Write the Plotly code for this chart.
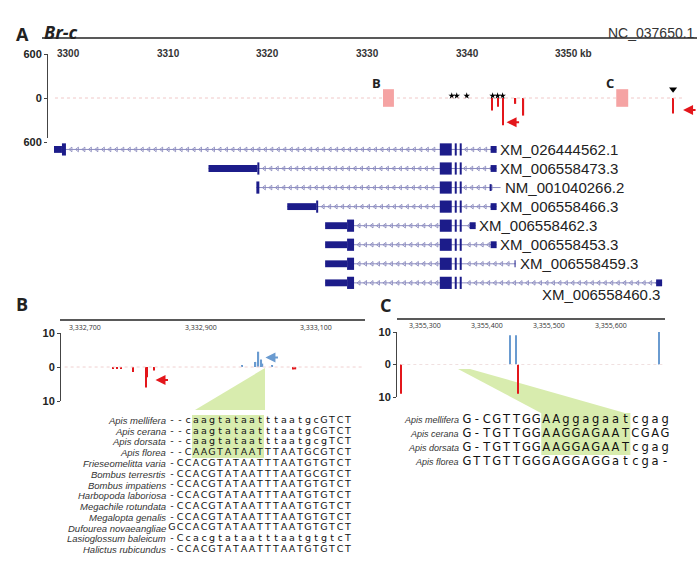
import plotly.graph_objects as go
import numpy as np

W, H = 700, 565
def px(x): return x / W
def py(y): return 1 - y / H

# ---------- Panel A data ----------
a_ticks = [3300, 3310, 3320, 3330, 3340, 3350]
a_ticklabels = ["3300", "3310", "3320", "3330", "3340", "3350 kb"]
tx_names = ["XM_026444562.1", "XM_006558473.3", "NM_001040266.2", "XM_006558466.3",
            "XM_006558462.3", "XM_006558453.3", "XM_006558459.3", "XM_006558460.3"]
tx_start = [3299.9, 3315.4, 3320.2, 3323.3, 3327.1, 3327.1, 3327.1, 3327.1]
tx_end = [3344.3, 3344.3, 3344.7, 3344.3, 3342.2, 3344.3, 3346.2, 3360.9]
tx_first = [(3299.9, 3300.7, 3301.1), (3315.4, 3320.3, 3320.5), (3320.2, 3320.2, 3320.5),
            (3323.3, 3326.2, 3326.4), (3327.1, 3329.3, 3330.0), (3327.1, 3329.3, 3330.0),
            (3327.1, 3329.3, 3330.0), (3327.1, 3329.3, 3330.0)]
shared_exons = [(3338.6, 3339.8), (3340.1, 3340.3), (3340.6, 3340.8)]
tx_last = [(3343.7, 3344.3), (3343.7, 3344.3), (3343.6, 3343.8), (3343.7, 3344.3),
           (3341.6, 3342.2), (3343.7, 3344.3), (3346.1, 3346.2), (3360.3, 3360.9)]
tx_label_x = [3344.4, 3344.4, 3344.9, 3344.4, 3342.3, 3344.4, 3346.4, 3360.9]

a_red_x = [3343.8, 3344.4, 3344.95, 3346.2, 3347.0, 3362.0]
a_red_y = [-170, -120, -370, -80, -240, -210]
a_box = [(3332.9, 3334.0, "B"), (3356.3, 3357.5, "C")]
a_star_x = [3339.8, 3340.3, 3341.3, 3343.9, 3344.4, 3344.9]

# ---------- Panel B data ----------
b_ticks = [3332700, 3332900, 3333100]
b_red_x = [3332748, 3332755, 3332762, 3332783, 3332805, 3332807, 3332819, 3333059, 3333064]
b_red_y = [-0.6, -0.6, -0.6, -1.5, -6, -3, -1, -0.7, -0.7]
b_blue_x = [3332971, 3332995, 3333000, 3333005, 3333007, 3333024]
b_blue_y = [0.4, 1.5, 4.5, 2.2, 1.0, 0.5]
b_species = ["Apis mellifera", "Apis cerana", "Apis dorsata", "Apis florea", "Frieseomelitta varia",
             "Bombus terresrtis", "Bombus impatiens", "Harbopoda laboriosa", "Megachile rotundata",
             "Megalopta genalis", "Dufourea novaeangliae", "Lasioglossum baleicum", "Halictus rubicundus"]
b_seqs = ["--caagtataatttaatgcGTCT", "--caagtataatttaatgCGTCT", "--caagtataatttaatgcgTCT",
          "--CAAGTATAATTTAATGCGTCT", "-CCACGTATAATTTAATGTGTCT", "-CCACGTATAATTTAATGCGTCT",
          "-CCACGTATAATTTAATGTGTCT", "-CCACGTATAATTTAATGTGTCT", "-CCACGTATAATTTAATGTGTCT",
          "-CCACGTATAATTTAATGTGTCT", "GCCACGTATAATTTAATGTGTCT", "-CcacgtataatttaatgtgtcT",
          "-CCACGTATAATTTAATGTGTCT"]

# ---------- Panel C data ----------
c_ticks = [3355300, 3355400, 3355500, 3355600]
c_red_x = [3355261, 3355450]
c_red_y = [-9, -9]
c_blue_x = [3355437, 3355447, 3355677]
c_blue_y = [9, 9, 10]
c_species = ["Apis mellifera", "Apis cerana", "Apis dorsata", "Apis florea"]
c_seqs = ["G-CGTTGGAAggagaatcgag", "G-TGTTGGAAGGAGAATCGAG", "G-TGTTGGAAGGAGAATcgag",
          "GTTGTTGGGAGGAGGatcga-"]

NAVY = "#1c1c8a"
RED = "#e3161b"
BLUE = "#6a9bd0"
PINK = "#f5a3a3"
GREEN = "#d8ecae"
LBL = "Liberation Sans Narrow, Arial"

fig = go.Figure()
shapes, ann = [], []

# ---- Panel A signal track ----
fig.add_trace(go.Bar(x=a_red_x, y=a_red_y, width=0.12, marker_color=RED, marker_line_width=0,
                     xaxis="x", yaxis="y", showlegend=False))
fig.add_trace(go.Scatter(x=a_star_x, y=[30] * len(a_star_x), mode="markers",
                         marker=dict(symbol="star", size=5, color="black"),
                         xaxis="x", yaxis="y", showlegend=False))
fig.add_trace(go.Scatter(x=[3362.0], y=[120], mode="markers",
                         marker=dict(symbol="triangle-down", size=7, color="black"),
                         xaxis="x", yaxis="y", showlegend=False))
shapes.append(dict(type="line", xref="x", yref="y", x0=3300, x1=3363, y0=0, y1=0,
                   line=dict(color="#f0c8c8", width=1, dash="dot")))
for x0, x1, lab in a_box:
    shapes.append(dict(type="rect", xref="x", yref="y", x0=x0, x1=x1, y0=-120, y1=120,
                       fillcolor=PINK, line_width=0))
    ann.append(dict(xref="x", yref="y", x=x0 - 0.6, y=200, text="<b>%s</b>" % lab,
                    showarrow=False, font=dict(size=13, color="#222")))
for hx, hy in [(3345.3, -330), (3363.0, -165)]:
    ann.append(dict(xref="x", yref="y", x=hx, y=hy, ax=14, ay=0, text="", showarrow=True,
                    arrowhead=2, arrowsize=1, arrowwidth=2, arrowcolor=RED))
for t, l in zip(a_ticks, a_ticklabels):
    ann.append(dict(xref="x", yref="paper", x=t, y=py(46), text="<b>%s</b>" % l, showarrow=False,
                    xanchor="left", font=dict(size=10, color="#333", family=LBL)))

# ---- transcripts ----
for i in range(len(tx_names)):
    s, e = tx_start[i], tx_end[i]
    shapes.append(dict(type="line", xref="x", yref="y2", x0=s, x1=e, y0=i, y1=i,
                       line=dict(color="#8c8cc0", width=1)))
    u0, c0, c1 = tx_first[i]
    shapes.append(dict(type="rect", xref="x", yref="y2", x0=u0, x1=c0, y0=i - 0.18, y1=i + 0.18,
                       fillcolor=NAVY, line_width=0))
    shapes.append(dict(type="rect", xref="x", yref="y2", x0=c0, x1=c1, y0=i - 0.32, y1=i + 0.32,
                       fillcolor=NAVY, line_width=0))
    for ex0, ex1 in shared_exons:
        shapes.append(dict(type="rect", xref="x", yref="y2", x0=ex0, x1=ex1, y0=i - 0.32, y1=i + 0.32,
                           fillcolor=NAVY, line_width=0))
    l0, l1 = tx_last[i]
    shapes.append(dict(type="rect", xref="x", yref="y2", x0=l0, x1=l1, y0=i - 0.18, y1=i + 0.18,
                       fillcolor=NAVY, line_width=0))
    chev = [x for x in np.arange(c1 + 0.5, e - 0.3, 0.65) if not (3338.4 < x < 3341.0)]
    fig.add_trace(go.Scatter(x=chev, y=[i] * len(chev), mode="markers",
                             marker=dict(symbol="triangle-left-open", size=4, color="#8080b8",
                                         line=dict(width=0.8)),
                             xaxis="x", yaxis="y2", showlegend=False, hoverinfo="skip"))
    if i < 7:
        ann.append(dict(xref="x", yref="y2", x=tx_label_x[i], y=i, text=tx_names[i], showarrow=False,
                        xanchor="left", font=dict(size=15, color="#222", family=LBL)))
    else:
        ann.append(dict(xref="x", yref="y2", x=tx_label_x[i], y=i + 0.6, text=tx_names[i], showarrow=False,
                        xanchor="right", font=dict(size=15, color="#222", family=LBL)))

# ---- Panel B track ----
fig.add_trace(go.Bar(x=b_red_x, y=b_red_y, width=2.2, marker_color=RED, marker_line_width=0,
                     xaxis="x3", yaxis="y3", showlegend=False))
fig.add_trace(go.Bar(x=b_blue_x, y=b_blue_y, width=2.2, marker_color=BLUE, marker_line_width=0,
                     xaxis="x3", yaxis="y3", showlegend=False))
shapes.append(dict(type="line", xref="x3", yref="y3", x0=3332665, x1=3333180, y0=0, y1=0,
                   line=dict(color="#f0d0d0", width=1, dash="dot")))
ann.append(dict(xref="x3", yref="y3", x=3332822, y=-3.8, ax=14, ay=0, text="", showarrow=True,
                arrowhead=2, arrowwidth=2, arrowcolor=RED))
ann.append(dict(xref="x3", yref="y3", x=3333012, y=2.8, ax=14, ay=0, text="", showarrow=True,
                arrowhead=2, arrowwidth=2, arrowcolor=BLUE))
for t in b_ticks:
    ann.append(dict(xref="x3", yref="paper", x=t, y=py(327), text="{:,}".format(t), showarrow=False,
                    font=dict(size=7, color="#333")))

# ---- Panel C track ----
fig.add_trace(go.Bar(x=c_red_x, y=c_red_y, width=1.5, marker_color=RED, marker_line_width=0,
                     xaxis="x4", yaxis="y4", showlegend=False))
fig.add_trace(go.Bar(x=c_blue_x, y=c_blue_y, width=1.5, marker_color=BLUE, marker_line_width=0,
                     xaxis="x4", yaxis="y4", showlegend=False))
shapes.append(dict(type="line", xref="x4", yref="y4", x0=3355262, x1=3355687, y0=0, y1=0,
                   line=dict(color="#f0e0e0", width=1, dash="dot")))
for t in c_ticks:
    ann.append(dict(xref="x4", yref="paper", x=t, y=py(325), text="{:,}".format(t), showarrow=False,
                    font=dict(size=7, color="#333")))

# ---- alignments ----
def add_alignment(species, seqs, xa, ya, hl, fsize, nsize, name_px):
    for r, (sp, sq) in enumerate(zip(species, seqs)):
        fig.add_trace(go.Scatter(x=list(range(len(sq))), y=[r] * len(sq), mode="text", text=list(sq),
                                 textfont=dict(size=fsize, color="#111", family="DejaVu Sans"),
                                 xaxis=xa, yaxis=ya, showlegend=False, hoverinfo="skip"))
        ann.append(dict(xref="paper", yref=ya, x=px(name_px), y=r, text="<i>%s</i>" % sp, showarrow=False,
                        xanchor="right", font=dict(size=nsize, color="#333", family="Liberation Sans")))
    shapes.append(dict(type="rect", xref=xa, yref=ya, x0=hl[0], x1=hl[1], y0=-0.55, y1=hl[2],
                       fillcolor=GREEN, line_width=0, layer="below"))

add_alignment(b_species, b_seqs, "x5", "y5", (2.5, 11.5, 3.5), 9.5, 9.5, 168)
add_alignment(c_species, c_seqs, "x6", "y6", (7.5, 16.5, 2.5), 11.5, 9, 461)

shapes.append(dict(type="path", xref="paper", yref="paper",
                   path="M %f %f L %f %f L %f %f Z" % (px(265), py(368), px(195), py(410), px(265), py(410)),
                   fillcolor=GREEN, line_width=0, layer="below"))
shapes.append(dict(type="path", xref="paper", yref="paper",
                   path="M %f %f L %f %f L %f %f L %f %f Z" % (px(458), py(369), px(470), py(369),
                                                            px(625), py(413), px(541), py(413)),
                   fillcolor=GREEN, line_width=0, layer="below"))

for x0, x1, y in [(42, 697, 38), (60, 365, 320), (397, 665, 319)]:
    shapes.append(dict(type="line", xref="paper", yref="paper", x0=px(x0), x1=px(x1), y0=py(y), y1=py(y),
                       line=dict(color="#222", width=1.5)))

for t, x, y in [("A", 14, 20), ("B", 14, 304), ("C", 386, 305)]:
    ann.append(dict(xref="paper", yref="paper", x=px(x), y=py(y), text="<b>%s</b>" % t, showarrow=False,
                    font=dict(size=18, color="#222")))
ann.append(dict(xref="paper", yref="paper", x=px(42), y=py(18), text="<b><i>Br-c</i></b>", showarrow=False,
                xanchor="left", font=dict(size=18, color="#222")))
ann.append(dict(xref="paper", yref="paper", x=px(697), y=py(23), text="NC_037650.1", showarrow=False,
                xanchor="right", font=dict(size=14, color="#333", family=LBL)))

yax = dict(showgrid=False, zeroline=False, showline=True, linecolor="#444", ticks="outside", ticklen=3,
           tickfont=dict(size=11, color="#222", family="Liberation Sans"), automargin=False)
hid = dict(visible=False, showgrid=False, zeroline=False, automargin=False)

fig.update_layout(
    template="none",
    width=W, height=H, margin=dict(l=0, r=0, t=0, b=0, pad=0), plot_bgcolor="white", paper_bgcolor="white",
    barmode="overlay", shapes=shapes, annotations=ann, showlegend=False,
    xaxis=dict(hid, domain=[px(47), px(697)], range=[3299.2, 3364.4], anchor="y"),
    yaxis=dict(yax, domain=[py(142), py(54)], range=[-600, 600], tickvals=[-600, 0, 600],
               ticktext=["<b>600</b>", "<b>0</b>", "<b>600</b>"], anchor="free", position=px(47)),
    yaxis2=dict(hid, domain=[py(300), py(138)], range=[7.9, -0.6], anchor="x"),
    xaxis3=dict(hid, domain=[px(60), px(365)], range=[3332657, 3333184], anchor="y3"),
    yaxis3=dict(yax, domain=[py(401), py(333)], range=[-10, 10], tickvals=[-10, 0, 10],
                ticktext=["<b>10</b>", "<b>0</b>", "<b>10</b>"], anchor="free", position=px(60)),
    xaxis4=dict(hid, domain=[px(397), px(665)], range=[3355255, 3355687], anchor="y4"),
    yaxis4=dict(yax, domain=[py(397), py(332)], range=[-10, 10], tickvals=[-10, 0, 10],
                ticktext=["<b>10</b>", "<b>0</b>", "<b>10</b>"], anchor="free", position=px(396)),
    xaxis5=dict(hid, domain=[px(168), px(352)], range=[-0.5, 22.5], anchor="y5"),
    yaxis5=dict(hid, domain=[py(555), py(415)], range=[12.5, -0.5], anchor="x5"),
    xaxis6=dict(hid, domain=[px(462), px(670)], range=[-0.5, 20.5], anchor="y6"),
    yaxis6=dict(hid, domain=[py(469), py(413)], range=[3.5, -0.5], anchor="x6"),
)
fig.write_html("out.html", config={"displayModeBar": False},
               post_script="document.body.style.margin='0';document.body.style.overflow='hidden';")
